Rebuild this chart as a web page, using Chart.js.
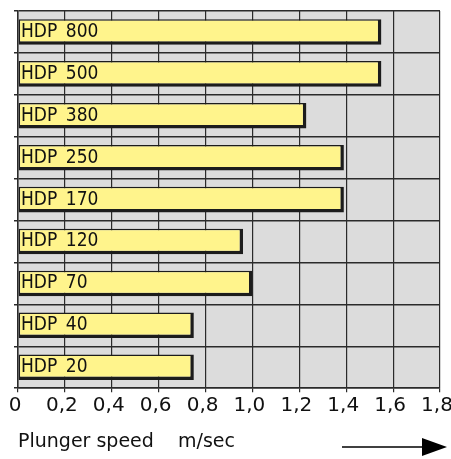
<!DOCTYPE html>
<html>
<head>
<meta charset="utf-8">
<script src="https://cdn.jsdelivr.net/npm/chart.js@4.4.1/dist/chart.umd.min.js"></script>
<style>
html,body{margin:0;padding:0;background:#fff;}
#wrap{width:451px;height:459px;position:relative;}
</style>
</head>
<body>
<div id="wrap"><canvas id="c" width="451" height="459"></canvas></div>
<script>
const categories = ['HDP 800','HDP 500','HDP 380','HDP 250','HDP 170','HDP 120','HDP 70','HDP 40','HDP 20'];
const plungerSpeed = [1.55, 1.55, 1.23, 1.39, 1.39, 0.96, 1.00, 0.75, 0.75];
const tickLabels = ['0','0,2','0,4','0,6','0,8','1,0','1,2','1,4','1,6','1,8'];
const axisTitle = 'Plunger speed    m/sec';

const bgPlugin = {
  id: 'plotBg',
  beforeDraw(chart) {
    const {ctx, chartArea: a} = chart;
    ctx.save();
    ctx.fillStyle = '#dcdcdc';
    ctx.fillRect(a.left, a.top, a.right - a.left, a.bottom - a.top);
    ctx.restore();
  }
};
const arrowPlugin = {
  id: 'arrow',
  afterDraw(chart) {
    const {ctx, chartArea: a} = chart;
    const y = chart.height - 12;
    const xEnd = a.right + 7;
    ctx.save();
    ctx.strokeStyle = '#000';
    ctx.fillStyle = '#000';
    ctx.lineWidth = 1.5;
    ctx.beginPath();
    ctx.moveTo(xEnd - 105, y);
    ctx.lineTo(xEnd - 20, y);
    ctx.stroke();
    ctx.beginPath();
    ctx.moveTo(xEnd - 25, y - 9);
    ctx.lineTo(xEnd, y);
    ctx.lineTo(xEnd - 25, y + 9);
    ctx.closePath();
    ctx.fill();
    ctx.restore();
  }
};

new Chart(document.getElementById('c'), {
  type: 'bar',
  data: {
    labels: categories,
    datasets: [{
      data: plungerSpeed,
      backgroundColor: '#fff48c',
      borderColor: '#1c1c1c',
      borderWidth: {top: 1.5, left: 1.5, right: 3.5, bottom: 3.5},
      borderSkipped: false,
      categoryPercentage: 1,
      barPercentage: 0.61
    }]
  },
  options: {
    indexAxis: 'y',
    responsive: false,
    animation: false,
    layout: {padding: {left: 14, top: 11, right: 11, bottom: 0}},
    plugins: {legend: {display: false}, tooltip: {enabled: false}},
    scales: {
      x: {
        min: 0, max: 1.8,
        afterFit(s) { s.paddingRight = 0; s.paddingLeft = 0; },
        ticks: {
          stepSize: 0.2,
          color: '#111',
          font: {family: 'DejaVu Sans', size: 20},
          padding: 2,
          labelOffset: -3,
          maxRotation: 0,
          autoSkip: false,
          callback: (v, i) => tickLabels[i]
        },
        grid: {color: '#2a2a2a', lineWidth: 1.2, tickLength: 4},
        border: {color: '#2a2a2a', width: 1.5},
        title: {
          display: true,
          text: axisTitle,
          align: 'start',
          color: '#111',
          font: {family: 'DejaVu Sans', size: 19},
          padding: {top: 10, bottom: 6}
        }
      },
      y: {
        offset: true,
        afterFit(s) { s.width = 4; s.paddingTop = 0; s.paddingBottom = 0; },
        grid: {color: '#2a2a2a', lineWidth: 1.5, tickLength: 4, offset: true},
        border: {color: '#2a2a2a', width: 1.5},
        ticks: {
          mirror: true,
          z: 1,
          padding: 3,
          color: '#111',
          font: {family: "'DejaVu Sans Condensed', 'DejaVu Sans', sans-serif", size: 19},
          callback: (v, i) => categories[i].replace(' ', '\u2002')
        }
      }
    }
  },
  plugins: [bgPlugin, arrowPlugin]
});
</script>
</body>
</html>
